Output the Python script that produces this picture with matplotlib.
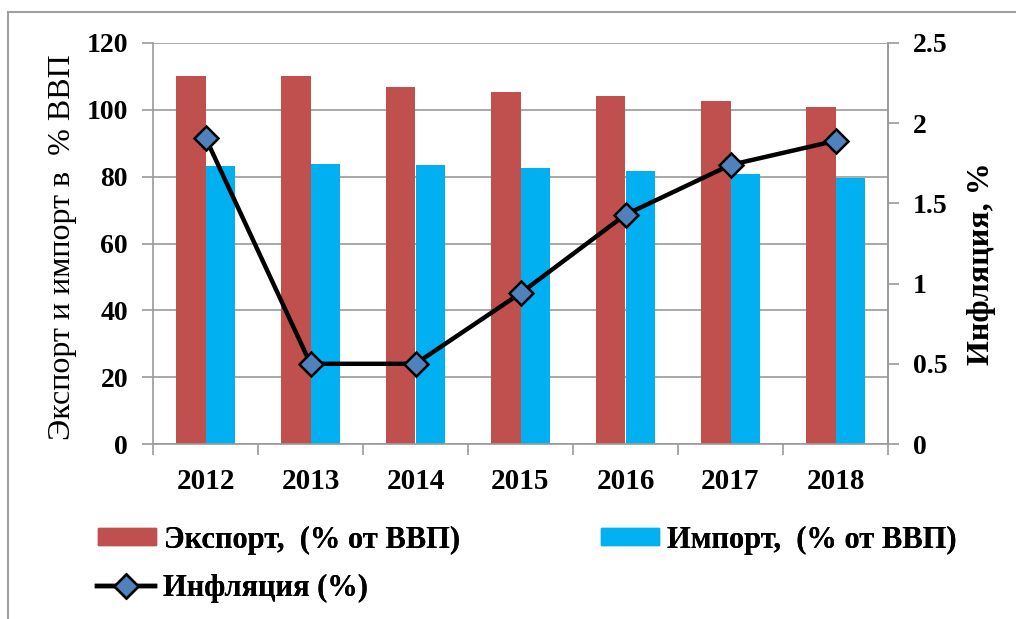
import matplotlib
matplotlib.use("Agg")
import matplotlib.pyplot as plt
from matplotlib.lines import Line2D
from matplotlib.patches import Rectangle
import numpy as np

plt.rcParams['font.family'] = ['Liberation Serif', 'DejaVu Serif']

years = ["2012", "2013", "2014", "2015", "2016", "2017", "2018"]
export = [110.1, 110.0, 106.8, 105.3, 104.1, 102.6, 100.8]
imports = [83.2, 83.8, 83.5, 82.6, 81.7, 80.8, 79.6]
inflation = [1.91, 0.50, 0.50, 0.94, 1.43, 1.74, 1.89]

fig = plt.figure(figsize=(10.16, 6.19), dpi=100)
ax = fig.add_axes([153 / 1016, 1 - 444 / 619, (888 - 153) / 1016, (444 - 43) / 619])

# рамка вокруг всей картинки
fig.patches.append(Rectangle((8 / 1016, -0.05), 1.1, 1 - 12 / 619 + 0.05,
                             transform=fig.transFigure, fill=False,
                             edgecolor="#a0a0a0", linewidth=1.5))

x = np.arange(len(years))
w = 0.28
ax.bar(x - w / 2, export, width=w, color="#C0504D", zorder=2)
ax.bar(x + w / 2, imports, width=w, color="#00B0F0", zorder=2)

ax.set_xlim(-0.5, len(years) - 0.5)
ax.set_ylim(0, 120)
ax.set_yticks(range(0, 121, 20))
ax.yaxis.grid(True, color="#9a9a9a", linewidth=1.2, zorder=0)
ax.set_axisbelow(True)

ax.set_xticks(x)
ax.set_xticklabels(years, fontsize=21, fontweight="bold")
ax.tick_params(axis="x", which="major", length=0, pad=17)
ax.set_xticks(np.arange(-0.5, len(years), 1), minor=True)
ax.tick_params(axis="x", which="minor", length=8, color="#9a9a9a", width=1.2)
ax.tick_params(axis="y", length=8, color="#9a9a9a", width=1.2, labelsize=20, pad=10)
for lab in ax.get_yticklabels():
    lab.set_fontweight("bold")

ax.spines["top"].set_visible(False)
for s in ["left", "bottom", "right"]:
    ax.spines[s].set_color("#9a9a9a")
    ax.spines[s].set_linewidth(1.2)

ax.set_ylabel("Экспорт и импорт в  % ВВП", fontsize=23)
ax.yaxis.set_label_coords(-0.103, 0.49)

ax2 = ax.twinx()
ax2.plot(x, inflation, color="black", linewidth=3.2, marker="D", markersize=12,
         markerfacecolor="#4F81BD", markeredgecolor="black", markeredgewidth=1.8, zorder=5)
ax2.set_ylim(0, 2.5)
ax2.set_yticks([0, 0.5, 1, 1.5, 2, 2.5])
ax2.set_yticklabels(["0", "0.5", "1", "1.5", "2", "2.5"])
ax2.tick_params(axis="y", length=8, color="#9a9a9a", width=1.2, labelsize=20, pad=10)
for lab in ax2.get_yticklabels():
    lab.set_fontweight("bold")
for s in ["top", "left", "bottom"]:
    ax2.spines[s].set_visible(False)
ax2.spines["right"].set_color("#9a9a9a")
ax2.spines["right"].set_linewidth(1.2)
ax2.set_ylabel("Инфляция, %", fontsize=23, fontweight="bold")
ax2.yaxis.set_label_coords(1.107, 0.45)

# легенда: три отдельных элемента
leg_font = {"size": 22, "weight": "bold"}
items = [
    (Rectangle((0, 0), 1, 1, color="#C0504D"), "Экспорт,  (% от ВВП)", 98, 540),
    (Rectangle((0, 0), 1, 1, color="#00B0F0"), "Импорт,  (% от ВВП)", 601, 540),
    (Line2D([0], [0], color="black", linewidth=3.2, marker="D", markersize=12,
            markerfacecolor="#4F81BD", markeredgecolor="black", markeredgewidth=1.8),
     "Инфляция (%)", 97, 588),
]
for h, lbl, px, py in items:
    leg = fig.legend([h], [lbl], frameon=False, loc="center left",
                     bbox_to_anchor=(px / 1016, 1 - py / 619),
                     prop=leg_font, handlelength=1.9, handleheight=0.5,
                     handletextpad=0.25, borderpad=0, borderaxespad=0)
    fig.add_artist(leg)

fig.savefig("out.png", dpi=100)
